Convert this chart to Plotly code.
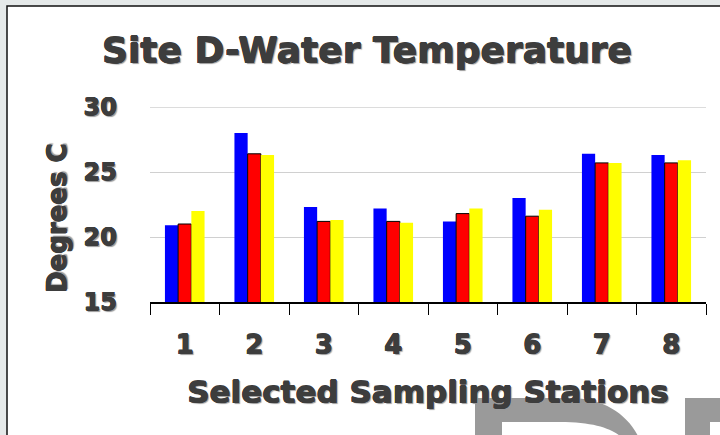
import plotly.graph_objects as go

# Water temperature at each sampling station, three sampling runs
stations = ["1", "2", "3", "4", "5", "6", "7", "8"]
run_1 = [20.9, 28.0, 22.3, 22.2, 21.2, 23.0, 26.4, 26.3]
run_2 = [21.0, 26.4, 21.2, 21.2, 21.8, 21.6, 25.7, 25.7]
run_3 = [22.0, 26.3, 21.3, 21.1, 22.2, 22.1, 25.7, 25.9]
y_ticks = [15, 20, 25, 30]

W, H = 720, 435
ML, MR, MT, MB = 150, 14, 107, 133
PW, PH = W - ML - MR, H - MT - MB

TEXT = "#3d3d3d"
GRID = "#d0d0d0"
# thicken the glyphs a little and give them a soft drop shadow
HEAVY = (f"0.5px 0 0 {TEXT}, -0.5px 0 0 {TEXT}, 0 0.5px 0 {TEXT}, 0 -0.5px 0 {TEXT}, "
         "1.5px 1.5px 1px #9a9a9a")


def px(x):
    return (x - ML) / PW


def py(y):
    return (H - MB - y) / PH


def font(size):
    return dict(family="DejaVu Sans", size=size, color=TEXT, weight="bold", shadow=HEAVY)


fig = go.Figure()
fig.add_bar(x=stations, y=run_1, name="Run 1", marker=dict(color="#0000ff", line=dict(width=0)))
fig.add_bar(x=stations, y=run_2, name="Run 2", marker=dict(color="#ff0000", line=dict(color="#000000", width=1)))
fig.add_bar(x=stations, y=run_3, name="Run 3", marker=dict(color="#ffff00", line=dict(width=0)))

# page frame, top gridline at the range edge, and the faded watermark lettering
shapes = [
    dict(type="rect", xref="paper", yref="paper", x0=px(7), x1=px(724), y0=py(6), y1=py(440),
         fillcolor="white", line=dict(color="#111111", width=1.5), layer="below"),
    dict(type="line", xref="paper", yref="y", x0=0, x1=1, y0=max(y_ticks), y1=max(y_ticks),
         line=dict(color=GRID, width=1.5), layer="below"),
    dict(type="path", xref="paper", yref="paper", layer="below", fillcolor="#9a9a9a", line=dict(width=0),
         path=(f"M {px(475)} {py(398)} L {px(570)} {py(398)} "
               f"C {px(603)} {py(398)} {px(627)} {py(414)} {px(638)} {py(436)} "
               f"L {px(620)} {py(436)} "
               f"C {px(610)} {py(428)} {px(592)} {py(422)} {px(560)} {py(422)} "
               f"L {px(502)} {py(422)} L {px(502)} {py(436)} L {px(475)} {py(436)} Z")),
    dict(type="path", xref="paper", yref="paper", layer="below", fillcolor="#9a9a9a", line=dict(width=0),
         path=(f"M {px(685)} {py(398)} L {px(722)} {py(398)} L {px(722)} {py(422)} "
               f"L {px(710)} {py(422)} L {px(710)} {py(436)} L {px(685)} {py(436)} Z")),
]

fig.update_layout(
    width=W, height=H,
    margin=dict(l=ML, r=MR, t=MT, b=MB, pad=0),
    paper_bgcolor="#e5e9e9",
    plot_bgcolor="rgba(0,0,0,0)",
    showlegend=False,
    barmode="group",
    bargap=0.43,
    bargroupgap=0,
    shapes=shapes,
    title=dict(
        text="Site D-Water Temperature",
        x=367 / W, xref="container", xanchor="center",
        y=1 - 50 / H, yref="container", yanchor="middle",
        font=font(36),
    ),
    xaxis=dict(
        showline=True, linecolor="#000000", linewidth=1.5,
        ticks="outside", tickson="boundaries", ticklen=11, tickcolor="#000000", tickwidth=1,
        ticklabelstandoff=19,
        tickfont=font(26),
        title=dict(text="Selected Sampling Stations", standoff=22, font=font(31)),
        showgrid=False, zeroline=False,
    ),
    yaxis=dict(
        range=[15, 30], tickvals=y_ticks,
        showgrid=True, gridcolor=GRID, gridwidth=1,
        zeroline=False, showline=False, ticks="",
        ticklabelstandoff=32,
        tickfont=font(24),
    ),
    annotations=[
        dict(text="Degrees C", textangle=-90, showarrow=False,
             xref="paper", yref="paper", x=px(57), y=py(218),
             xanchor="center", yanchor="middle", font=font(26)),
    ],
)

fig.write_html("out.html")
